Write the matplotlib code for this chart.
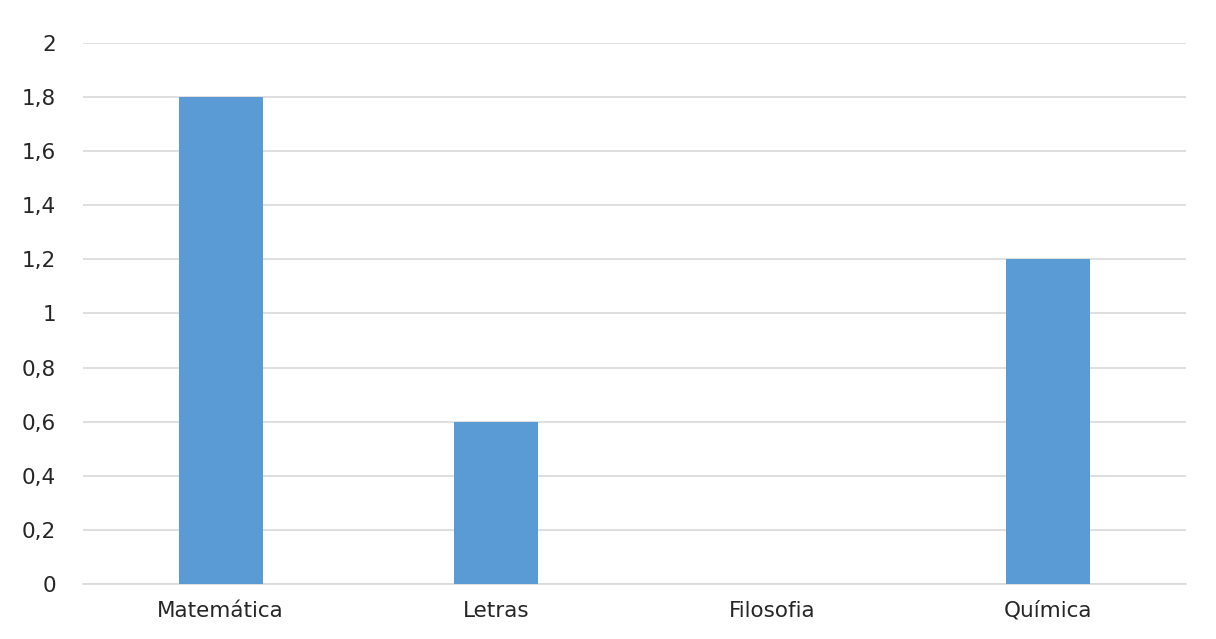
import matplotlib.pyplot as plt

categories = ["Matemática", "Letras", "Filosofia", "Química"]
values = [1.8, 0.6, 0.0, 1.2]
yticks = [0, 0.2, 0.4, 0.6, 0.8, 1.0, 1.2, 1.4, 1.6, 1.8, 2.0]
ytick_labels = ["0", "0,2", "0,4", "0,6", "0,8", "1", "1,2", "1,4", "1,6", "1,8", "2"]

plt.rcParams['font.family'] = ['DejaVu Sans']

fig = plt.figure(figsize=(12.16, 6.39), dpi=100)
ax = fig.add_axes([0.068, 0.086, 0.907, 0.847])

x = list(range(len(categories)))
ax.bar(x, values, width=0.305, color='#5B9BD5', zorder=3)

ax.set_xlim(-0.5, len(categories) - 0.5)
ax.set_ylim(0, 2)
ax.set_yticks(yticks)
ax.set_yticklabels(ytick_labels)
ax.set_xticks(x)
ax.set_xticklabels(categories)
ax.tick_params(axis='both', length=0, labelsize=15.5, colors='#262626')
ax.tick_params(axis='y', pad=19)
ax.tick_params(axis='x', pad=12)

ax.grid(axis='y', color='#D9D9D9', linewidth=1.2, zorder=0)
for side in ['top', 'right', 'left']:
    ax.spines[side].set_visible(False)
ax.spines['bottom'].set_color('#D9D9D9')
ax.spines['bottom'].set_linewidth(1.2)

fig.savefig("out.png", dpi=100)
